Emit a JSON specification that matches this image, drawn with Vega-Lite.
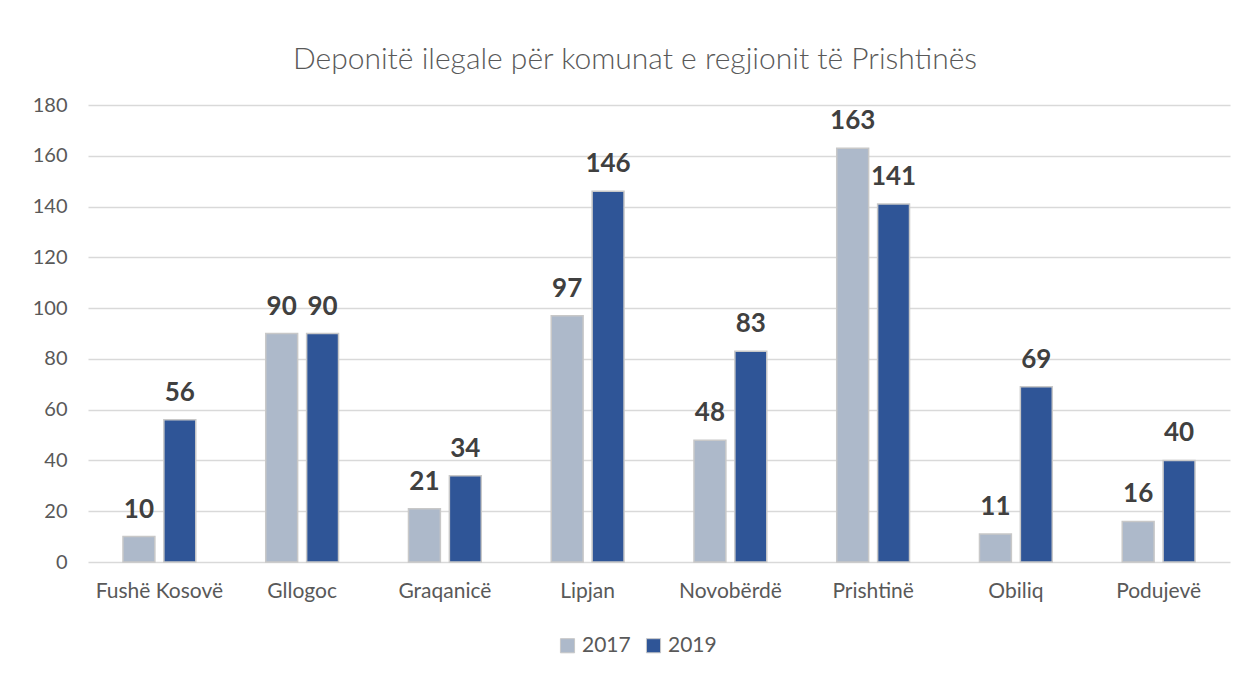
{
  "$schema": "https://vega.github.io/schema/vega-lite/v6.json",
  "width": 1142,
  "height": 457,
  "autosize": {"type": "none"},
  "padding": {"left": 88, "top": 105, "right": 19, "bottom": 112},
  "background": "white",
  "title": {
    "text": "Deponitë ilegale për komunat e regjionit të Prishtinës",
    "font": "Lato",
    "fontSize": 30,
    "fontWeight": 300,
    "color": "#595959",
    "anchor": "middle",
    "dx": -24,
    "offset": 20
  },
  "data": {
    "values": [
      {"komuna": "Fushë Kosovë", "viti": "2017", "vlera": 10},
      {"komuna": "Fushë Kosovë", "viti": "2019", "vlera": 56},
      {"komuna": "Gllogoc", "viti": "2017", "vlera": 90},
      {"komuna": "Gllogoc", "viti": "2019", "vlera": 90},
      {"komuna": "Graqanicë", "viti": "2017", "vlera": 21},
      {"komuna": "Graqanicë", "viti": "2019", "vlera": 34},
      {"komuna": "Lipjan", "viti": "2017", "vlera": 97},
      {"komuna": "Lipjan", "viti": "2019", "vlera": 146},
      {"komuna": "Novobërdë", "viti": "2017", "vlera": 48},
      {"komuna": "Novobërdë", "viti": "2019", "vlera": 83},
      {"komuna": "Prishtinë", "viti": "2017", "vlera": 163},
      {"komuna": "Prishtinë", "viti": "2019", "vlera": 141},
      {"komuna": "Obiliq", "viti": "2017", "vlera": 11},
      {"komuna": "Obiliq", "viti": "2019", "vlera": 69},
      {"komuna": "Podujevë", "viti": "2017", "vlera": 16},
      {"komuna": "Podujevë", "viti": "2019", "vlera": 40}
    ]
  },
  "encoding": {
    "x": {
      "field": "komuna",
      "type": "nominal",
      "sort": null,
      "scale": {"paddingInner": 0.49, "paddingOuter": 0.245},
      "axis": {
        "title": null,
        "labelAngle": 0,
        "labelFont": "Lato",
        "labelFontSize": 21,
        "labelColor": "#595959",
        "labelPadding": 18,
        "ticks": false,
        "domain": false,
        "grid": false
      }
    },
    "xOffset": {
      "field": "viti",
      "type": "nominal",
      "scale": {"paddingInner": 0.22, "paddingOuter": 0}
    },
    "y": {
      "field": "vlera",
      "type": "quantitative",
      "scale": {"domain": [0, 180]},
      "axis": {
        "title": null,
        "values": [0, 20, 40, 60, 80, 100, 120, 140, 160, 180],
        "labelFont": "Lato",
        "labelFontSize": 20,
        "labelColor": "#595959",
        "labelPadding": 21,
        "ticks": false,
        "domain": false,
        "grid": true,
        "gridColor": "#d9d9d9",
        "gridWidth": 1.5
      }
    }
  },
  "layer": [
    {
      "mark": {"type": "bar", "stroke": "#c8c8c8", "strokeWidth": 1.5},
      "encoding": {
        "color": {
          "field": "viti",
          "type": "nominal",
          "scale": {"domain": ["2017", "2019"], "range": ["#adb9ca", "#2f5597"]},
          "legend": {
            "title": null,
            "orient": "none",
            "direction": "horizontal",
            "legendX": 469,
            "legendY": 530,
            "symbolType": "square",
            "symbolSize": 200,
            "symbolStrokeColor": "#c8c8c8",
            "symbolStrokeWidth": 1,
            "labelFont": "Lato",
            "labelFontSize": 21,
            "labelColor": "#595959",
            "columnPadding": 12,
            "labelOffset": 4
          }
        }
      }
    },
    {
      "mark": {
        "type": "text",
        "baseline": "bottom",
        "dy": -14,
        "font": "Lato",
        "fontSize": 26,
        "fontWeight": "bold",
        "color": "#404040"
      },
      "encoding": {"text": {"field": "vlera", "type": "quantitative"}}
    }
  ],
  "config": {"view": {"stroke": null}}
}
